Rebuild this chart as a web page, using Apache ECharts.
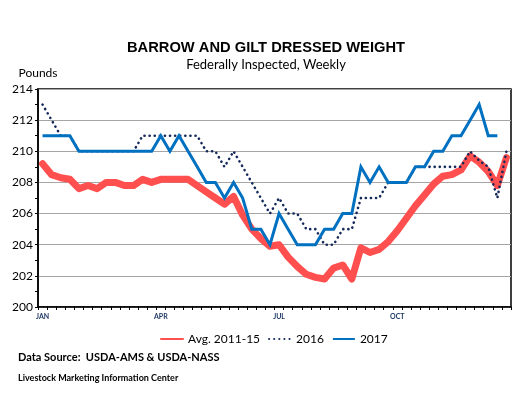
<!DOCTYPE html>
<html>
<head>
<meta charset="utf-8">
<title>Barrow and Gilt Dressed Weight</title>
<script src="https://cdn.jsdelivr.net/npm/echarts@6/dist/echarts.min.js"></script>
<style>
    html, body { margin: 0; padding: 0; background: #fff; }
    #chart { width: 532px; height: 397px; }
</style>
</head>
<body>
<div id="chart"></div>
<script>
// weeks of the year, 1..52
const weeks = Array.from({ length: 52 }, (_, i) => String(i + 1));

// month labels shown under the axis, and the week they sit on
const tickWeeks = [1, 14, 27, 40];
const tickLabels = ['JAN', 'APR', 'JUL', 'OCT'];

const avg2011to15 = [
    209.2, 208.5, 208.3, 208.2, 207.6, 207.8, 207.6, 208.0, 208.0, 207.8,
    207.8, 208.2, 208.0, 208.2, 208.2, 208.2, 208.2, 207.8, 207.4, 207.0,
    206.6, 207.1, 205.9, 205.0, 204.4, 203.9, 204.0, 203.2, 202.6, 202.1,
    201.9, 201.8, 202.5, 202.7, 201.8, 203.8, 203.5, 203.7, 204.2, 204.9,
    205.7, 206.5, 207.2, 207.9, 208.4, 208.5, 208.8, 209.7, 209.3, 208.7,
    207.8, 209.6
];

const y2016 = [
    213, 212, 211, 211, 210, 210, 210, 210, 210, 210,
    210, 211, 211, 211, 211, 211, 211, 211, 210, 210,
    209, 210, 209, 208, 207, 206, 207, 206, 206, 205,
    205, 204, 204, 205, 205, 207, 207, 207, 208, 208,
    208, 209, 209, 209, 209, 209, 209, 210, 209.4, 209,
    207, 210
];

const y2017 = [
    211, 211, 211, 211, 210, 210, 210, 210, 210, 210,
    210, 210, 210, 211, 210, 211, 210, 209, 208, 208,
    207, 208, 207, 205, 205, 204, 206, 205, 204, 204,
    204, 205, 205, 206, 206, 209, 208, 209, 208, 208,
    208, 209, 209, 210, 210, 211, 211, 212, 213, 211,
    211, null
];

const seriesNames = ['Avg. 2011-15', '2016', '2017'];

const chart = echarts.init(document.getElementById('chart'), null, { renderer: 'canvas' });

const font = 'Lato, "Open Sans", sans-serif';

const options = {
    animation: false,
    backgroundColor: '#fff',
    textStyle: { fontFamily: font },
    title: {
        text: 'BARROW AND GILT DRESSED WEIGHT',
        subtext: 'Federally Inspected, Weekly',
        left: 'center',
        top: 35,
        itemGap: 3,
        textStyle: {
            fontFamily: '"Liberation Sans", Arial, sans-serif',
            fontSize: 14.7,
            fontWeight: 'bold',
            color: '#000'
        },
        subtextStyle: {
            fontFamily: font,
            fontSize: 13,
            color: '#000'
        }
    },
    legend: {
        left: 155,
        top: 328,
        itemWidth: 22,
        itemHeight: 8,
        itemGap: 8,
        // line series draw a circle in the legend icon; hide it, keep the line
        itemStyle: { opacity: 0 },
        textStyle: { fontFamily: font, fontSize: 12, color: '#000' },
        data: seriesNames
    },
    grid: {
        left: 38,
        right: 21,
        top: 89,
        bottom: 90,
        show: true,
        borderColor: '#000',
        borderWidth: 1.5
    },
    xAxis: {
        type: 'category',
        data: weeks,
        boundaryGap: true,
        axisLine: { lineStyle: { color: '#000', width: 1.5 } },
        axisTick: {
            show: true,
            interval: 0,
            length: 3,
            lineStyle: { color: '#000', width: 1 }
        },
        axisLabel: {
            interval: 0,
            margin: 6,
            fontSize: 7,
            fontWeight: 'bold',
            color: '#1F3864',
            formatter: function (val) {
                const k = tickWeeks.indexOf(Number(val));
                return k >= 0 ? tickLabels[k] : '';
            }
        },
        splitLine: { show: false }
    },
    yAxis: {
        type: 'value',
        min: 200,
        max: 214,
        interval: 2,
        name: 'Pounds',
        nameLocation: 'end',
        nameGap: 10,
        nameTextStyle: { fontFamily: font, fontSize: 12, color: '#000', align: 'center' },
        axisLine: { show: true, lineStyle: { color: '#000', width: 1.5 } },
        axisTick: { show: true, length: 3, lineStyle: { color: '#000' } },
        minorTick: { show: true, splitNumber: 2, length: 3, lineStyle: { color: '#000' } },
        axisLabel: { fontSize: 12, color: '#000', margin: 5, fontFamily: font },
        splitLine: { show: true, lineStyle: { color: '#A6A6A6', width: 1 } }
    },
    series: [
        {
            name: seriesNames[0],
            type: 'line',
            data: avg2011to15,
            symbol: 'none',
            lineStyle: { color: '#FF4F4F', width: 7, join: 'round', cap: 'round' },
            itemStyle: { color: '#FF4F4F' }
        },
        {
            name: seriesNames[1],
            type: 'line',
            data: y2016,
            symbol: 'none',
            lineStyle: { color: '#14285A', width: 2.6, type: [0.1, 5], cap: 'round' },
            itemStyle: { color: '#14285A' }
        },
        {
            name: seriesNames[2],
            type: 'line',
            data: y2017,
            symbol: 'none',
            lineStyle: { color: '#0070C0', width: 3, join: 'miter' },
            itemStyle: { color: '#0070C0' }
        }
    ],
    graphic: [
        {
            type: 'text',
            left: 18,
            top: 352,
            style: {
                text: 'Data Source:  USDA-AMS & USDA-NASS',
                fontFamily: font,
                fontSize: 11,
                fontWeight: 'bold',
                fill: '#000'
            }
        },
        {
            type: 'text',
            left: 18,
            top: 374,
            style: {
                text: 'Livestock Marketing Information Center',
                fontFamily: font,
                fontSize: 9,
                fontWeight: 'bold',
                fill: '#000'
            }
        }
    ]
};

chart.setOption(options);
</script>
</body>
</html>
